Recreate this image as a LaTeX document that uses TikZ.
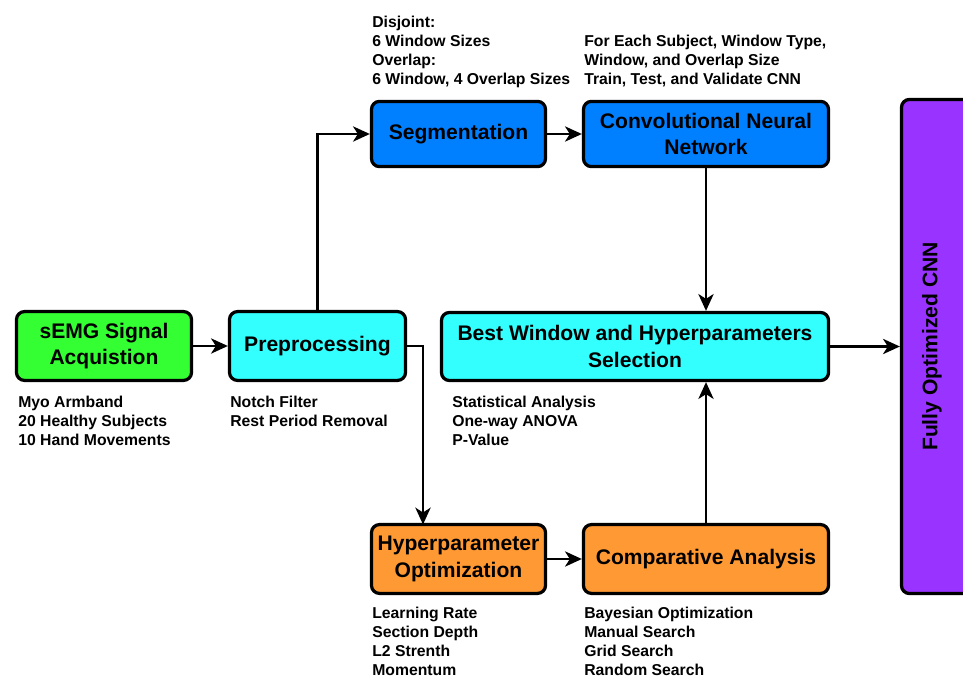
\documentclass[tikz,border=0pt]{standalone}
\usepackage{fontspec}
\setmainfont{Liberation Sans}
\usepackage{tikz}
\usetikzlibrary{positioning, arrows.meta, calc}

\definecolor{acqgreen}{RGB}{51,255,51}
\definecolor{procyan}{RGB}{51,255,255}
\definecolor{segblue}{RGB}{0,128,255}
\definecolor{hyporange}{RGB}{255,153,51}
\definecolor{finpurple}{RGB}{153,51,255}

\begin{document}
\begin{tikzpicture}[
        x=0.025cm, y=-0.025cm,
        stage/.style={draw, line width=2.3pt, rounded corners=2mm, inner sep=0pt, align=center,
            font=\fontsize{15}{19}\selectfont\bfseries, minimum height=1.72cm},
        note/.style={anchor=north west, inner sep=0pt, align=left,
            font=\fontsize{11.2}{13.5}\selectfont\bfseries},
        flow/.style={-{Stealth[length=4.2mm, width=3.8mm, inset=1.2mm]}, line width=1.8pt},
    ]
        \useasboundingbox (0,0) rectangle (963,677);
        \node[stage, fill=acqgreen,  minimum width=4.375cm] (acq)  at (104,346)   {sEMG Signal\\Acquistion};
        \node[stage, fill=procyan,   minimum width=4.4cm]   (prep) at (317.5,346) {Preprocessing};
        \node[stage, fill=segblue,   minimum width=4.35cm, minimum height=1.63cm]  (seg)  at (458.5,134) {Segmentation};
        \node[stage, fill=segblue,   minimum width=6.125cm, minimum height=1.63cm] (cnn)  at (706,134)   {Convolutional Neural\\Network};
        \node[stage, fill=procyan,   minimum width=9.675cm, minimum height=1.7cm]  (best) at (635,346.5) {Best Window and Hyperparameters\\Selection};
        \node[stage, fill=hyporange, minimum width=4.35cm]  (hyp)  at (458.5,559) {Hyperparameter\\Optimization};
        \node[stage, fill=hyporange, minimum width=6.125cm] (comp) at (706,559)   {Comparative Analysis};
        \node[stage, fill=finpurple, minimum width=2.8cm, minimum height=12.35cm] (full) at (957.5,346.5) {};
        \node[font=\fontsize{15}{19}\selectfont\bfseries, rotate=90] (fulltxt) at (932,346.5) {Fully Optimized CNN};
        % notes under and above the stages
        \node[note] (acqnote)  at (18,396)  {Myo Armband\\20 Healthy Subjects\\10 Hand Movements};
        \node[note] (prepnote) at (230,396) {Notch Filter\\Rest Period Removal};
        \node[note] (bestnote) at (452,396) {Statistical Analysis\\One-way ANOVA\\P-Value};
        \node[note] (segnote)  at (372,16)  {Disjoint:\\6 Window Sizes\\Overlap:\\6 Window, 4 Overlap Sizes};
        \node[note] (cnnnote)  at (584,35)  {For Each Subject, Window Type,\\Window, and Overlap Size\\Train, Test, and Validate CNN};
        \node[note] (hypnote)  at (372,607) {Learning Rate\\Section Depth\\L2 Strenth\\Momentum};
        \node[note] (compnote) at (584,607) {Bayesian Optimization\\Manual Search\\Grid Search\\Random Search};
        \coordinate (hypin) at (423,524.5);
        \draw[flow] (acq) -- (prep);
        \draw[flow] (prep.north) |- (seg.west);
        \draw[flow] (seg) -- (cnn);
        \draw[flow] (prep.east) -| (hypin);
        \draw[flow] (hyp) -- (comp);
        \draw[flow] (cnn.south) -- (cnn.south |- best.north);
        \draw[flow] (comp.north) -- (comp.north |- best.south);
        \draw[flow] (best.east) -- (best.east -| full.west);
    \end{tikzpicture}
\end{document}
